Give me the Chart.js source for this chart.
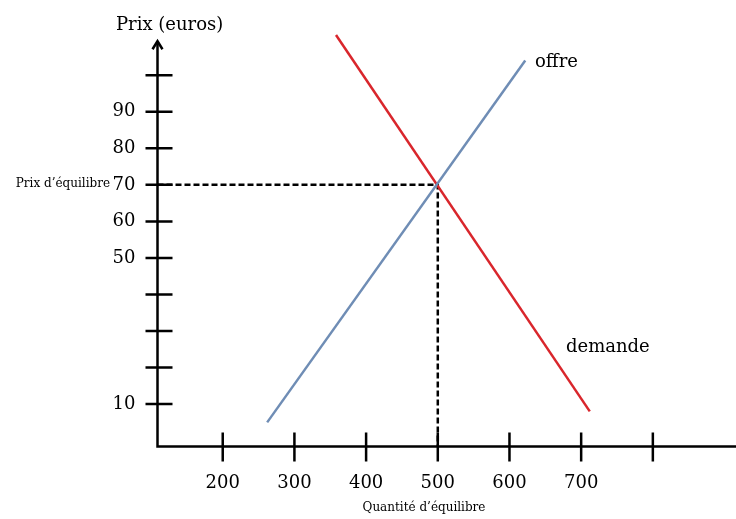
<!DOCTYPE html>
<html>
<head>
<meta charset="utf-8">
<script src="https://cdn.jsdelivr.net/npm/chart.js@4/dist/chart.umd.min.js"></script>
<style>
  html, body { margin: 0; padding: 0; background: #fff; }
  canvas { display: block; }
</style>
</head>
<body>
<canvas id="chart-eq" width="736" height="519"></canvas>
<script>
// DATA
const offre = [{ x: 262, y: 5 }, { x: 622, y: 104 }];
const demande = [{ x: 358, y: 111 }, { x: 712, y: 8 }];
const equilibre = { x: 500, y: 70 };

const xTicks = [200, 300, 400, 500, 600, 700, 800];
const xTickLabels = ['200', '300', '400', '500', '600', '700', ''];
const yTicks = [10, 20, 30, 40, 50, 60, 70, 80, 90, 100];
const yTickLabels = ['10', '', '', '', '50', '60', '70', '80', '90', ''];

const xMin = 109, xMax = 916;
const yMin = -1.6, yMax = 111;
const yArrow = 109.3;

const serif = 'DejaVu Serif';
const ink = '#000';

// AXES, TICK MARKS AND ARROW
const axesPlugin = {
    id: 'axes',
    beforeDatasetsDraw(chart) {
        const { ctx, scales: { x, y } } = chart;
        const x0 = x.getPixelForValue(xMin);
        const y0 = y.getPixelForValue(yMin);
        const yTop = y.getPixelForValue(yArrow);
        ctx.save();
        ctx.strokeStyle = ink;
        ctx.lineWidth = 2.5;
        ctx.lineCap = 'butt';
        ctx.beginPath();
        ctx.moveTo(x0 - 1.25, y0);
        ctx.lineTo(chart.width, y0);
        ctx.moveTo(x0, y0);
        ctx.lineTo(x0, yTop + 2);
        yTicks.forEach(v => {
            const py = y.getPixelForValue(v);
            ctx.moveTo(x0 - 12, py);
            ctx.lineTo(x0 + 15, py);
        });
        xTicks.forEach(v => {
            const px = x.getPixelForValue(v);
            ctx.moveTo(px, y0 - 14);
            ctx.lineTo(px, y0 + 15);
        });
        ctx.stroke();
        ctx.beginPath();
        ctx.moveTo(x0 - 5, yTop + 8);
        ctx.lineTo(x0, yTop);
        ctx.lineTo(x0 + 5, yTop + 8);
        ctx.stroke();
        ctx.restore();
    }
};

// FREE TEXT
const textPlugin = {
    id: 'texts',
    afterDraw(chart) {
        const { ctx } = chart;
        ctx.save();
        ctx.fillStyle = ink;
        ctx.textBaseline = 'alphabetic';
        ctx.font = '18px "' + serif + '"';
        ctx.textAlign = 'left';
        ctx.fillText('Prix (euros)', 116, 30);
        ctx.fillText('offre', 535, 67);
        ctx.fillText('demande', 566, 352);
        ctx.font = '12px "' + serif + '"';
        ctx.textAlign = 'right';
        ctx.fillText('Prix d\u2019équilibre', 110, 187);
        ctx.textAlign = 'center';
        ctx.fillText('Quantité d\u2019équilibre', 424, 511);
        ctx.restore();
    }
};

const eqCot = document.getElementById('chart-eq');

let eqChart = new Chart(eqCot, {
    type: 'scatter',
    data: {
        datasets: [{
            data: offre,
            showLine: true,
            borderColor: '#6f8db5',
            borderWidth: 2.5,
            pointRadius: 0,
            clip: false
        }, {
            data: demande,
            showLine: true,
            borderColor: '#d9262c',
            borderWidth: 2.5,
            pointRadius: 0,
            clip: false
        }, {
            data: [
                { x: xMin, y: equilibre.y },
                { x: equilibre.x, y: equilibre.y },
                { x: equilibre.x, y: yMin }
            ],
            showLine: true,
            borderColor: ink,
            borderWidth: 2.5,
            borderDash: [6, 3],
            pointRadius: 0,
            clip: false
        }]
    },
    options: {
        responsive: false,
        animation: false,
        devicePixelRatio: 1,
        layout: {
            padding: { top: 35, right: 0, bottom: 0, left: 0 }
        },
        scales: {
            x: {
                type: 'linear',
                min: xMin,
                max: xMax,
                afterBuildTicks: scale => {
                    scale.ticks = xTicks.map(v => ({ value: v }));
                },
                afterFit: scale => {
                    scale.height = 72.5;
                },
                border: { display: false },
                grid: { display: false, drawTicks: false },
                ticks: {
                    padding: 26,
                    color: ink,
                    font: { family: serif, size: 18 },
                    maxRotation: 0,
                    callback: (val, i) => xTickLabels[i]
                }
            },
            y: {
                type: 'linear',
                min: yMin,
                max: yMax,
                afterBuildTicks: scale => {
                    scale.ticks = yTicks.map(v => ({ value: v }));
                },
                afterFit: scale => {
                    scale.width = 157.5;
                },
                border: { display: false },
                grid: { display: false, drawTicks: false },
                ticks: {
                    padding: 22,
                    color: ink,
                    font: { family: serif, size: 18 },
                    callback: (val, i) => yTickLabels[i]
                }
            }
        },
        plugins: {
            legend: { display: false },
            tooltip: { enabled: false }
        }
    },
    plugins: [axesPlugin, textPlugin]
});
</script>
</body>
</html>
